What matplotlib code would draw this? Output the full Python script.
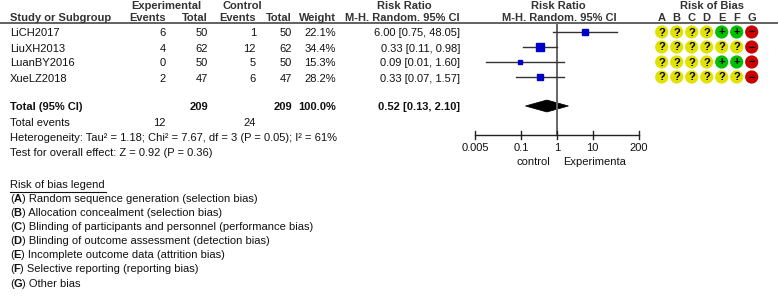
import matplotlib
matplotlib.use("Agg")
import matplotlib.pyplot as plt
from matplotlib.patches import Circle, Polygon

plt.rcParams['font.family'] = ['Liberation Sans', 'DejaVu Sans']

studies = ["LiCH2017", "LiuXH2013", "LuanBY2016", "XueLZ2018"]
exp_events = [6, 4, 0, 2]
exp_total = [50, 62, 50, 47]
ctl_events = [1, 12, 5, 6]
ctl_total = [50, 62, 50, 47]
weights = [22.1, 34.4, 15.3, 28.2]
rr = [6.00, 0.33, 0.09, 0.33]
ci_low = [0.75, 0.11, 0.01, 0.07]
ci_high = [48.05, 0.98, 1.60, 1.57]
total_exp, total_ctl = 209, 209
total_events_exp, total_events_ctl = 12, 24
pooled_rr, pooled_low, pooled_high = 0.52, 0.13, 2.10
heterogeneity = "Heterogeneity: Tau² = 1.18; Chi² = 7.67, df = 3 (P = 0.05); I² = 61%"
overall = "Test for overall effect: Z = 0.92 (P = 0.36)"
xticks = [0.005, 0.1, 1, 10, 200]
xtick_labels = ["0.005", "0.1", "1", "10", "200"]
bias_domains = ["A", "B", "C", "D", "E", "F", "G"]
bias = [
    ["?", "?", "?", "?", "+", "+", "-"],
    ["?", "?", "?", "?", "?", "?", "-"],
    ["?", "?", "?", "?", "+", "+", "-"],
    ["?", "?", "?", "?", "?", "?", "-"],
]
legend_items = [
    ("A", "Random sequence generation (selection bias)"),
    ("B", "Allocation concealment (selection bias)"),
    ("C", "Blinding of participants and personnel (performance bias)"),
    ("D", "Blinding of outcome assessment (detection bias)"),
    ("E", "Incomplete outcome data (attrition bias)"),
    ("F", "Selective reporting (reporting bias)"),
    ("G", "Other bias"),
]

W, H = 778, 296
fig = plt.figure(figsize=(W / 100, H / 100), dpi=100)
ax = fig.add_axes([0, 0, 1, 1])
ax.set_xlim(0, W)
ax.set_ylim(H, 0)
ax.axis('off')

fs = 8
tc = "#111111"
hc = "#333333"


def bt(x, y, s, ha='left'):
    ax.text(x, y, s, ha=ha, va='center', fontsize=fs, fontweight='bold', color=hc)


# headers
bt(166, 6, "Experimental", 'center')
bt(242, 6, "Control", 'center')
bt(404, 6, "Risk Ratio", 'center')
bt(10, 18, "Study or Subgroup")
bt(166, 18, "Events", 'right')
bt(208, 18, "Total", 'right')
bt(256, 18, "Events", 'right')
bt(292, 18, "Total", 'right')
bt(336, 18, "Weight", 'right')
bt(460, 18, "M-H. Random. 95% CI", 'right')
bt(558, 6, "Risk Ratio", 'center')
bt(559, 18, "M-H. Random. 95% CI", 'center')
bt(712, 6, "Risk of Bias", 'center')
bias_x = [661.7 + 15 * i for i in range(7)]
for bx, d in zip(bias_x, bias_domains):
    bt(bx, 18, d, 'center')
ax.plot([0, W], [23, 23], color="#555555", lw=1.3)

rows = [32, 47, 62, 77]
dy = 1.5
for i, y in enumerate(rows):
    yt = y + dy
    ax.text(10, yt, studies[i], ha='left', va='center', fontsize=fs, color=tc)
    ax.text(166, yt, str(exp_events[i]), ha='right', va='center', fontsize=fs, color=tc)
    ax.text(208, yt, str(exp_total[i]), ha='right', va='center', fontsize=fs, color=tc)
    ax.text(256, yt, str(ctl_events[i]), ha='right', va='center', fontsize=fs, color=tc)
    ax.text(292, yt, str(ctl_total[i]), ha='right', va='center', fontsize=fs, color=tc)
    ax.text(336, yt, f"{weights[i]:.1f}%", ha='right', va='center', fontsize=fs, color=tc)
    ax.text(460, yt, f"{rr[i]:.2f} [{ci_low[i]:.2f}, {ci_high[i]:.2f}]", ha='right', va='center', fontsize=fs, color=tc)

ty = 107.5
ax.text(10, ty, "Total (95% CI)", ha='left', va='center', fontsize=fs, fontweight='bold', color=tc)
ax.text(208, ty, str(total_exp), ha='right', va='center', fontsize=fs, fontweight='bold', color=tc)
ax.text(292, ty, str(total_ctl), ha='right', va='center', fontsize=fs, fontweight='bold', color=tc)
ax.text(336, ty, "100.0%", ha='right', va='center', fontsize=fs, fontweight='bold', color=tc)
ax.text(460, ty, f"{pooled_rr:.2f} [{pooled_low:.2f}, {pooled_high:.2f}]", ha='right', va='center', fontsize=fs, fontweight='bold', color=tc)
ax.text(10, 123.5, "Total events", ha='left', va='center', fontsize=fs, color=tc)
ax.text(166, 123.5, str(total_events_exp), ha='right', va='center', fontsize=fs, color=tc)
ax.text(256, 123.5, str(total_events_ctl), ha='right', va='center', fontsize=fs, color=tc)
ax.text(10, 138, heterogeneity, ha='left', va='center', fontsize=fs, color=tc)
ax.text(10, 153, overall, ha='left', va='center', fontsize=fs, color=tc)

# legend
ax.text(10, 185.5, "Risk of bias legend ", ha='left', va='center', fontsize=fs, color=tc)
ax.plot([10, 106], [191.5, 191.5], color=tc, lw=0.8)
for k, (letter, desc) in enumerate(legend_items):
    y = 199 + 14.1 * k
    t1 = ax.text(10, y, "(", ha='left', va='center', fontsize=fs, color=tc)
    t2 = ax.annotate(letter, xy=(1, 0.5), xycoords=t1, va='center', ha='left',
                     fontsize=fs, fontweight='bold', color=tc)
    ax.annotate(") " + desc, xy=(1, 0.5), xycoords=t2, va='center', ha='left',
                fontsize=fs, color=tc)

# risk of bias circles
colors = {"?": "#E2E200", "+": "#00C000", "-": "#C80000"}
symbols = {"?": "?", "+": "+", "-": "−"}
for i, y in enumerate(rows):
    for j, s in enumerate(bias[i]):
        c = Circle((bias_x[j], y), 6.6, facecolor=colors[s], edgecolor='none')
        ax.add_patch(c)
        ax.text(bias_x[j], y + 0.5, symbols[s], ha='center', va='center', fontsize=8,
                fontweight='bold', color='black')

# forest plot axes
x0, x1 = 475, 639
ax2 = fig.add_axes([x0 / W, 0, (x1 - x0) / W, 1])
ax2.set_xscale('log')
ax2.set_xlim(0.005, 200)
ax2.set_ylim(H, 0)
ax2.axis('off')
ax2.patch.set_alpha(0)

ax2.plot([1, 1], [23, 135], color="#666666", lw=1.4, clip_on=False)
for i, y in enumerate(rows):
    ax2.plot([ci_low[i], ci_high[i]], [y, y], color="#333333", lw=1.0, clip_on=False)
    size_px = 2 + 0.15 * weights[i]
    ax2.plot([rr[i]], [y], marker='s', markersize=size_px * 0.72, color="#0000C8",
             mec="#0000C8", lw=0, clip_on=False)
dia = Polygon([[pooled_low, 106], [pooled_rr, 100], [pooled_high, 106], [pooled_rr, 112]],
              closed=True, facecolor='black', edgecolor='black', lw=0.5)
ax2.add_patch(dia)
ax2.plot([0.005, 200], [135, 135], color="#222222", lw=1.0, clip_on=False)
for t, lab in zip(xticks, xtick_labels):
    ax2.plot([t, t], [131, 139], color="#222222", lw=1.0, clip_on=False)
    ax2.text(t, 148, lab, ha='center', va='center', fontsize=fs, color=tc, clip_on=False)
ax.text(550, 162, "control", ha='right', va='center', fontsize=fs, color=tc)
ax.text(563, 162, "Experimenta", ha='left', va='center', fontsize=fs, color=tc)

fig.savefig("out.png", dpi=100)
